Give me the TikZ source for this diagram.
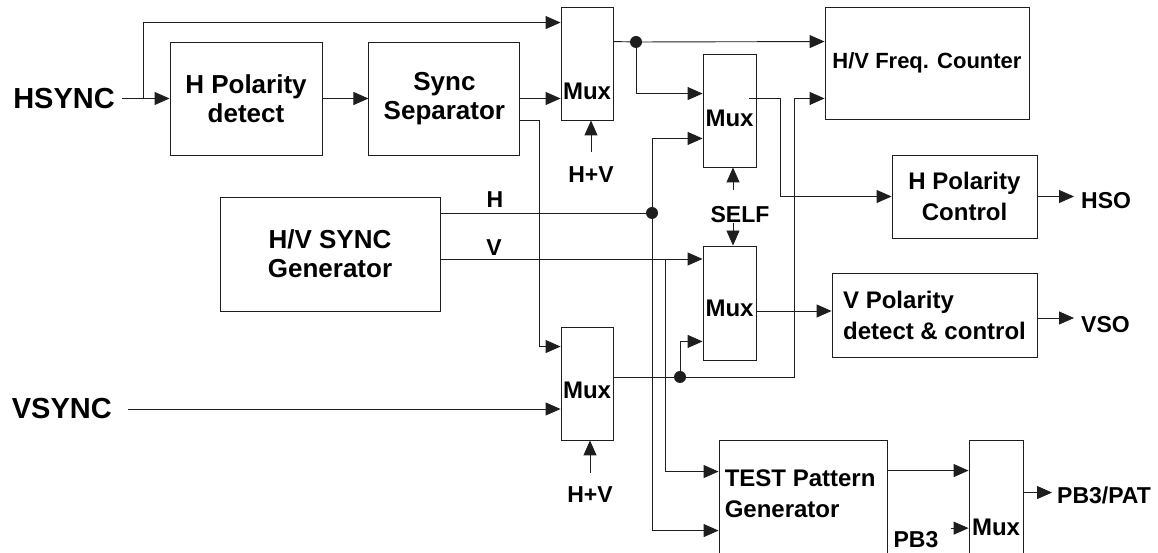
\documentclass[tikz,border=0pt]{standalone}
\usepackage{fontspec}
\setmainfont{Liberation Sans}
\usetikzlibrary{arrows.meta,positioning,calc}
\definecolor{Wire}{HTML}{1E1E1E}

\begin{document}
\begin{tikzpicture}[
  x=1pt,y=1pt,
  every node/.style={font=\bfseries,align=center},
  blk/.style={draw=Wire,line width=0.9pt,inner sep=0pt},
  mux/.style={blk,minimum width=52pt,minimum height=113pt},
  big/.style={font=\fontsize{26}{29}\selectfont\bfseries},
  mid/.style={font=\fontsize{24}{31}\selectfont\bfseries},
  sig/.style={font=\fontsize{23}{26}\selectfont\bfseries,inner sep=0pt},
  io/.style={font=\fontsize{29}{32}\selectfont\bfseries,inner sep=0pt},
  wire/.style={line width=0.9pt,Wire},
  arr/.style={wire,-{Triangle[length=15pt,width=13pt]}},
  dot/.style={circle,fill=Wire,inner sep=0pt,minimum size=12pt}
]
\useasboundingbox (0,0) rectangle (1158,553);
\clip (0,0) rectangle (1158,553);
\node[blk,big,minimum width=152pt,minimum height=113pt] (hpol) at (246,454.5) {H Polarity\\detect};
\node[blk,big,minimum width=151pt,minimum height=113pt,right=46pt of hpol] (sep) {Sync\\Separator};
\node[mux,label={[mid,yshift=-28pt]center:Mux}] (mux1) at (587,489.5) {};
\node[blk,font=\fontsize{22}{26}\selectfont\bfseries,minimum width=204pt,minimum height=112pt] (freq) at (927,490) {H/V Freq. Counter};
\node[mux,minimum width=53pt,label={[mid,yshift=-7.5pt]center:Mux}] (mux2) at (729.5,442.5) {};
\node[blk,mid,minimum width=145pt,minimum height=83pt] (hpc) at (964.5,356.5) {H Polarity\\Control};
\node[blk,big,minimum width=220pt,minimum height=114pt] (gen) at (330,299) {H/V SYNC\\Generator};
\node[mux,minimum width=53pt,minimum height=114pt,label={[mid,yshift=-5.5pt]center:Mux}] (mux4) at (729.5,250) {};
\node[blk,mid,align=left,minimum width=205pt,minimum height=84pt] (vpol) at (934.5,238) {V Polarity\\detect \& control};
\node[mux,label={[mid,yshift=-6.5pt]center:Mux}] (mux3) at (587,169.5) {};
\node[blk,minimum width=168pt,minimum height=130pt,label={[mid,align=left,anchor=north west,inner sep=0pt,xshift=6pt,yshift=-30pt]north west:TEST Pattern\\Generator}] (test) at (803,48) {};
\node[mux,minimum width=54pt,minimum height=130pt,label={[mid,yshift=-22pt]center:Mux}] (mux5) at (996,48) {};
\node[io,anchor=east] (hsync) at (115,454.5) {HSYNC};
\node[io,anchor=east] (vsync) at (112,144) {VSYNC};
\node[sig] (hv1) at (591,378.5) {H+V};
\node[sig] (hv3) at (590,58) {H+V};
\node[sig] (self) at (740,338.5) {SELF};
\node[sig] (hlab) at (495,353.5) {H};
\node[sig] (vlab) at (494,305.5) {V};
\node[sig,anchor=west] (hso) at (1081,352.5) {HSO};
\node[sig,anchor=west] (vso) at (1081,228.5) {VSO};
\node[sig,anchor=west] (pbpat) at (1057,58) {PB3/PAT};
\node[sig] (pb3) at (916,13.5) {PB3};
\node[dot] (dA) at (636,511) {};
\node[dot] (dH) at (652,340) {};
\node[dot] (dB) at (680,176) {};
\coordinate (hsb) at (143,454.5);
\coordinate (vb) at (665,294);
\coordinate (fb) at (794,176);
\coordinate (hb) at (780,455);
\coordinate (selx) at ([xshift=-7pt]self.north);
\coordinate (pbs) at ([xshift=12pt,yshift=3pt]pb3.north east);
\draw[arr] ([xshift=7pt]hsync.east) -- (hsync.east -| hpol.west); \draw[arr] (hsb) |- ([yshift=-16pt]mux1.north west);
\draw[arr] (hpol) -- (sep); \draw[arr] (sep) -- (sep.east -| mux1.west);
\draw[arr] ([yshift=-21.5pt]sep.east) -- ++(19,0) |- ([yshift=-20pt]mux3.north west);
\draw[arr] ([yshift=-35pt]mux1.north east) -- (dA.center) -- ([yshift=-35pt]mux1.north east -| freq.west);
\draw[arr] (dA.center) |- ([yshift=-40pt]mux2.north west);
\draw[wire] (gen.east |- dH) -- (dH.center);
\draw[arr] (dH.center) |- ([yshift=29pt]mux2.south west); \draw[arr] (dH.center) |- ([yshift=-91pt]test.north west);
\draw[arr] (gen.east |- vb) -- (mux4.west |- vb); \draw[arr] (vb) |- ([yshift=-32pt]test.north west);
\draw[arr] (mux3.east |- dB) -- (fb) |- ([yshift=21pt]freq.south west);
\draw[arr] (dB.center) |- ([yshift=19pt]mux4.south west);
\draw[arr] ([xshift=-7pt]mux2.east |- hb) -- (hb) |- (hpc.west);
\draw[arr] ([yshift=-8pt]mux4.east) -- ([yshift=-8pt]mux4.east -| vpol.west);
\draw[arr,shorten >=7pt] (hpc.east) -- (hpc.east -| hso.west);
\draw[arr,shorten >=7pt] ([yshift=-3pt]vpol.east) -- ([yshift=-3pt]vpol.east -| vso.west);
\draw[arr] ([yshift=14pt]hv1.north) -- (hv1.north |- mux1.south); \draw[arr] ([yshift=14pt]hv3.north) -- (hv3.north |- mux3.south);
\draw[arr] (selx) ++(0,16) -- (selx |- mux2.south); \draw[arr] (selx |- self.south) -- (selx |- mux4.north);
\draw[arr] ([yshift=-31pt]test.north east) -- ([yshift=-31pt]test.north east -| mux5.west);
\draw[arr] (pbs) -- (pbs -| mux5.west);
\draw[arr,shorten >=5pt] ([yshift=-53pt]mux5.north east) -- ([yshift=-53pt]mux5.north east -| pbpat.west);
\draw[arr] ([xshift=16pt]vsync.east) -- (vsync.east -| mux3.west);
\end{tikzpicture}
\end{document}
